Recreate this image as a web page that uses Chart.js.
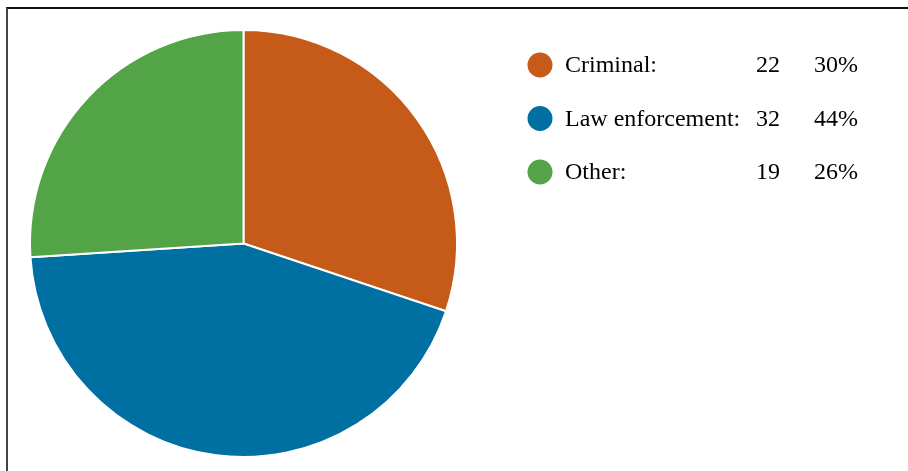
<!DOCTYPE html>
<html>
<head>
<meta charset="utf-8">
<script src="https://cdn.jsdelivr.net/npm/chart.js@4/dist/chart.umd.min.js"></script>
<style>
	body { margin: 0; background: #fff; }
	#frame { position: absolute; left: 6px; top: 7px; width: 960px; height: 500px;
		border-top: 2px solid #111; border-left: 2px solid #444; }
	#wrap { position: absolute; left: 0; top: 0; width: 908px; height: 471px; }
</style>
</head>
<body>
<div id="frame"></div>
<div id="wrap"><canvas id="pieChart"></canvas></div>
<script>
var categories = ["Criminal:", "Law enforcement:", "Other:"]
var counts = [22, 32, 19]
var percents = ["30%", "44%", "26%"]
var colors = ["#c55a19", "#0070a3", "#52a447"]

// legend drawn next to the pie, rows taken from the chart data
var sideLegend = {
	id: "sideLegend",
	afterDraw: function(chart) {
		var ctx = chart.ctx
		var ds = chart.data.datasets[0]
		ctx.save()
		ctx.font = "24px 'Liberation Serif', 'Times New Roman', serif"
		ctx.textBaseline = "middle"
		for (var i = 0; i < chart.data.labels.length; i++) {
			var y = 65 + i * 53.5
			ctx.beginPath()
			ctx.arc(540, y, 12.5, 0, Math.PI * 2)
			ctx.fillStyle = ds.backgroundColor[i]
			ctx.fill()
			ctx.fillStyle = "#000"
			ctx.textAlign = "left"
			ctx.fillText(chart.data.labels[i], 565, y + 1)
			ctx.fillText(String(ds.data[i]), 756, y + 1)
			ctx.fillText(percents[i], 814, y + 1)
		}
		ctx.restore()
	}
}

var ctx = document.getElementById("pieChart").getContext("2d")
var myChart = new Chart(ctx, {
	type: "pie",
	data: {
		labels: categories,
		datasets: [{
			data: counts,
			backgroundColor: colors,
			borderColor: "#fff",
			borderWidth: 2
		}]
	},
	options: {
		responsive: true,
		maintainAspectRatio: false,
		animation: false,
		layout: { padding: { left: 29, top: 29, right: 450, bottom: 13 } },
		plugins: {
			legend: { display: false },
			tooltip: { enabled: false }
		}
	},
	plugins: [sideLegend]
})
</script>
</body>
</html>
